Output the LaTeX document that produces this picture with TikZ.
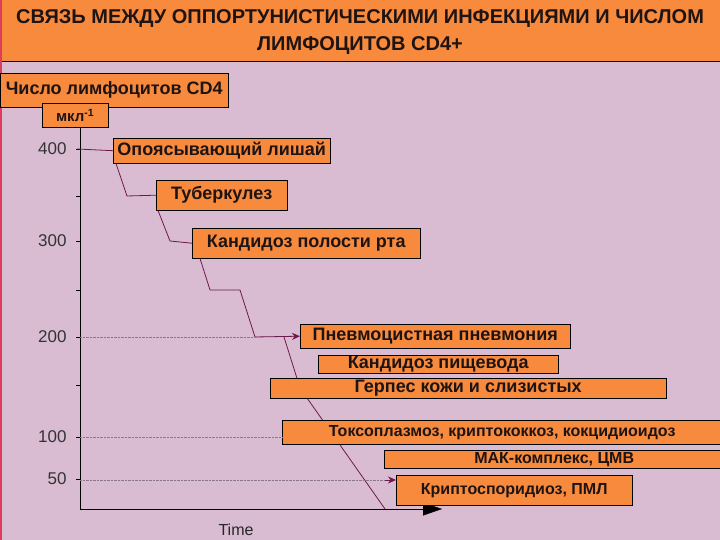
\documentclass[tikz,border=0pt]{standalone}
\usepackage{fontspec}
\setmainfont{Liberation Sans}
\usetikzlibrary{arrows.meta}

\definecolor{bgpink}{RGB}{217,188,210}
\definecolor{boxorange}{RGB}{247,138,60}
\definecolor{edgered}{RGB}{222,60,90}
\definecolor{stairline}{RGB}{110,25,75}
\definecolor{gridgrey}{RGB}{140,120,140}
\definecolor{inktext}{RGB}{30,20,20}

\tikzset{
  infbox/.style={draw=black, fill=boxorange, anchor=north west, inner sep=0pt,
    text=inktext, font=\bfseries\fontsize{18}{20}\selectfont},
  ticklab/.style={anchor=east, text=black!80, font=\fontsize{17}{19}\selectfont},
  stair/.style={draw=stairline, line width=0.8pt},
  grid/.style={draw=gridgrey, densely dotted},
  hit/.style={-{Stealth[length=8pt,width=7pt]}, draw=stairline, fill=stairline}
}

\begin{document}
\begin{tikzpicture}[x=1pt,y=-1pt]
\useasboundingbox (0,0) rectangle (720,540);
\clip (0,0) rectangle (720,540);
\fill[bgpink] (0,0) rectangle (720,540);
\fill[boxorange] (0,0) rectangle (720,61);
\draw (0,61) -- (720,61);
\draw[edgered, line width=2pt] (1,0) -- (1,540);

\node[text=inktext, align=center, font=\bfseries\fontsize{20}{27}\selectfont] (title) at (360,32)
  {СВЯЗЬ МЕЖДУ ОППОРТУНИСТИЧЕСКИМИ ИНФЕКЦИЯМИ И ЧИСЛОМ\\ЛИМФОЦИТОВ CD4+};

% axis labels
\node[infbox, minimum width=228pt, minimum height=34pt] (ylab) at (0,73) {Число лимфоцитов CD4};
\node[infbox, font=\bfseries\fontsize{15}{17}\selectfont, minimum width=66pt, minimum height=24pt] (unit) at (42,103) {мкл\textsuperscript{-1}};
\node[font=\fontsize{16}{18}\selectfont, text=black!85] (time) at (236,530) {Time};

% axes
\draw (80,127) -- (80,509);
\draw[-{Triangle[length=19pt,width=13pt]}] (80,509) -- (442,509);
\foreach \yy in {149,196,241,290,337,385,437,479}
  \draw (76,\yy) -- (80,\yy);

\node[ticklab] (t400) at (70,149) {400};
\node[ticklab] (t300) at (70,241) {300};
\node[ticklab] (t200) at (70,337) {200};
\node[ticklab] (t100) at (70,437) {100};
\node[ticklab] (t50) at (70,479) {50};

\coordinate (a400) at (77,149);
\coordinate (a200) at (80,337);
\coordinate (a100) at (80,437);
\coordinate (a50) at (80,480);
\coordinate (drop) at (284,337);
\coordinate (tend) at (385,509);

% fall after 200
\draw[stair] (drop) -- (300,388) -- (tend);

\begin{scope}[every node/.style={infbox}]
\node[minimum width=217pt, minimum height=25pt] (ozl) at (113,138) {Опоясывающий лишай};
\node[minimum width=131pt, minimum height=30pt] (tub) at (156,180) {Туберкулез};
\node[minimum width=228pt, minimum height=30pt] (kpr) at (192,228) {Кандидоз полости рта};
\node[minimum width=270pt, minimum height=24pt] (pnev) at (300,324) {Пневмоцистная пневмония};
\node[minimum width=240pt, minimum height=18pt] (kpis) at (318,355) {Кандидоз пищевода};
\node[minimum width=396pt, minimum height=20pt] (gerp) at (270,378) {Герпес кожи и слизистых};
\node[minimum width=440pt, minimum height=24pt, font=\bfseries\fontsize{16}{18}\selectfont] (toxo) at (282,420)
  {Токсоплазмоз, криптококкоз, кокцидиоидоз};
\node[minimum width=340pt, minimum height=18pt, font=\bfseries\fontsize{16}{18}\selectfont] (mak) at (384,450)
  {МАК-комплекс, ЦМВ};
\node[minimum width=236pt, minimum height=30pt, font=\bfseries\fontsize{16}{18}\selectfont] (kript) at (396,475) {Криптоспоридиоз, ПМЛ};
\end{scope}

% staircase
\draw[stair] (a400) -- (ozl.west);
\draw[stair] ([xshift=3pt]ozl.south west) -- (127,196) -- (tub.west);
\draw[stair] ([xshift=2pt]tub.south west) -- (170,241) -- (kpr.west);
\draw[stair] ([xshift=8pt]kpr.south west) -- (210,290) -- (240,290) -- (255,337);
\draw[grid] (a200) -- (255,337);
\draw[stair, hit] (255,337) -- (pnev.west);
\draw[grid] (a100) -- (a100 -| toxo.west);
\draw[grid] (a50) -- (385,480);
\draw[stair, hit] (385,480) -- (a50 -| kript.west);
\end{tikzpicture}
\end{document}
